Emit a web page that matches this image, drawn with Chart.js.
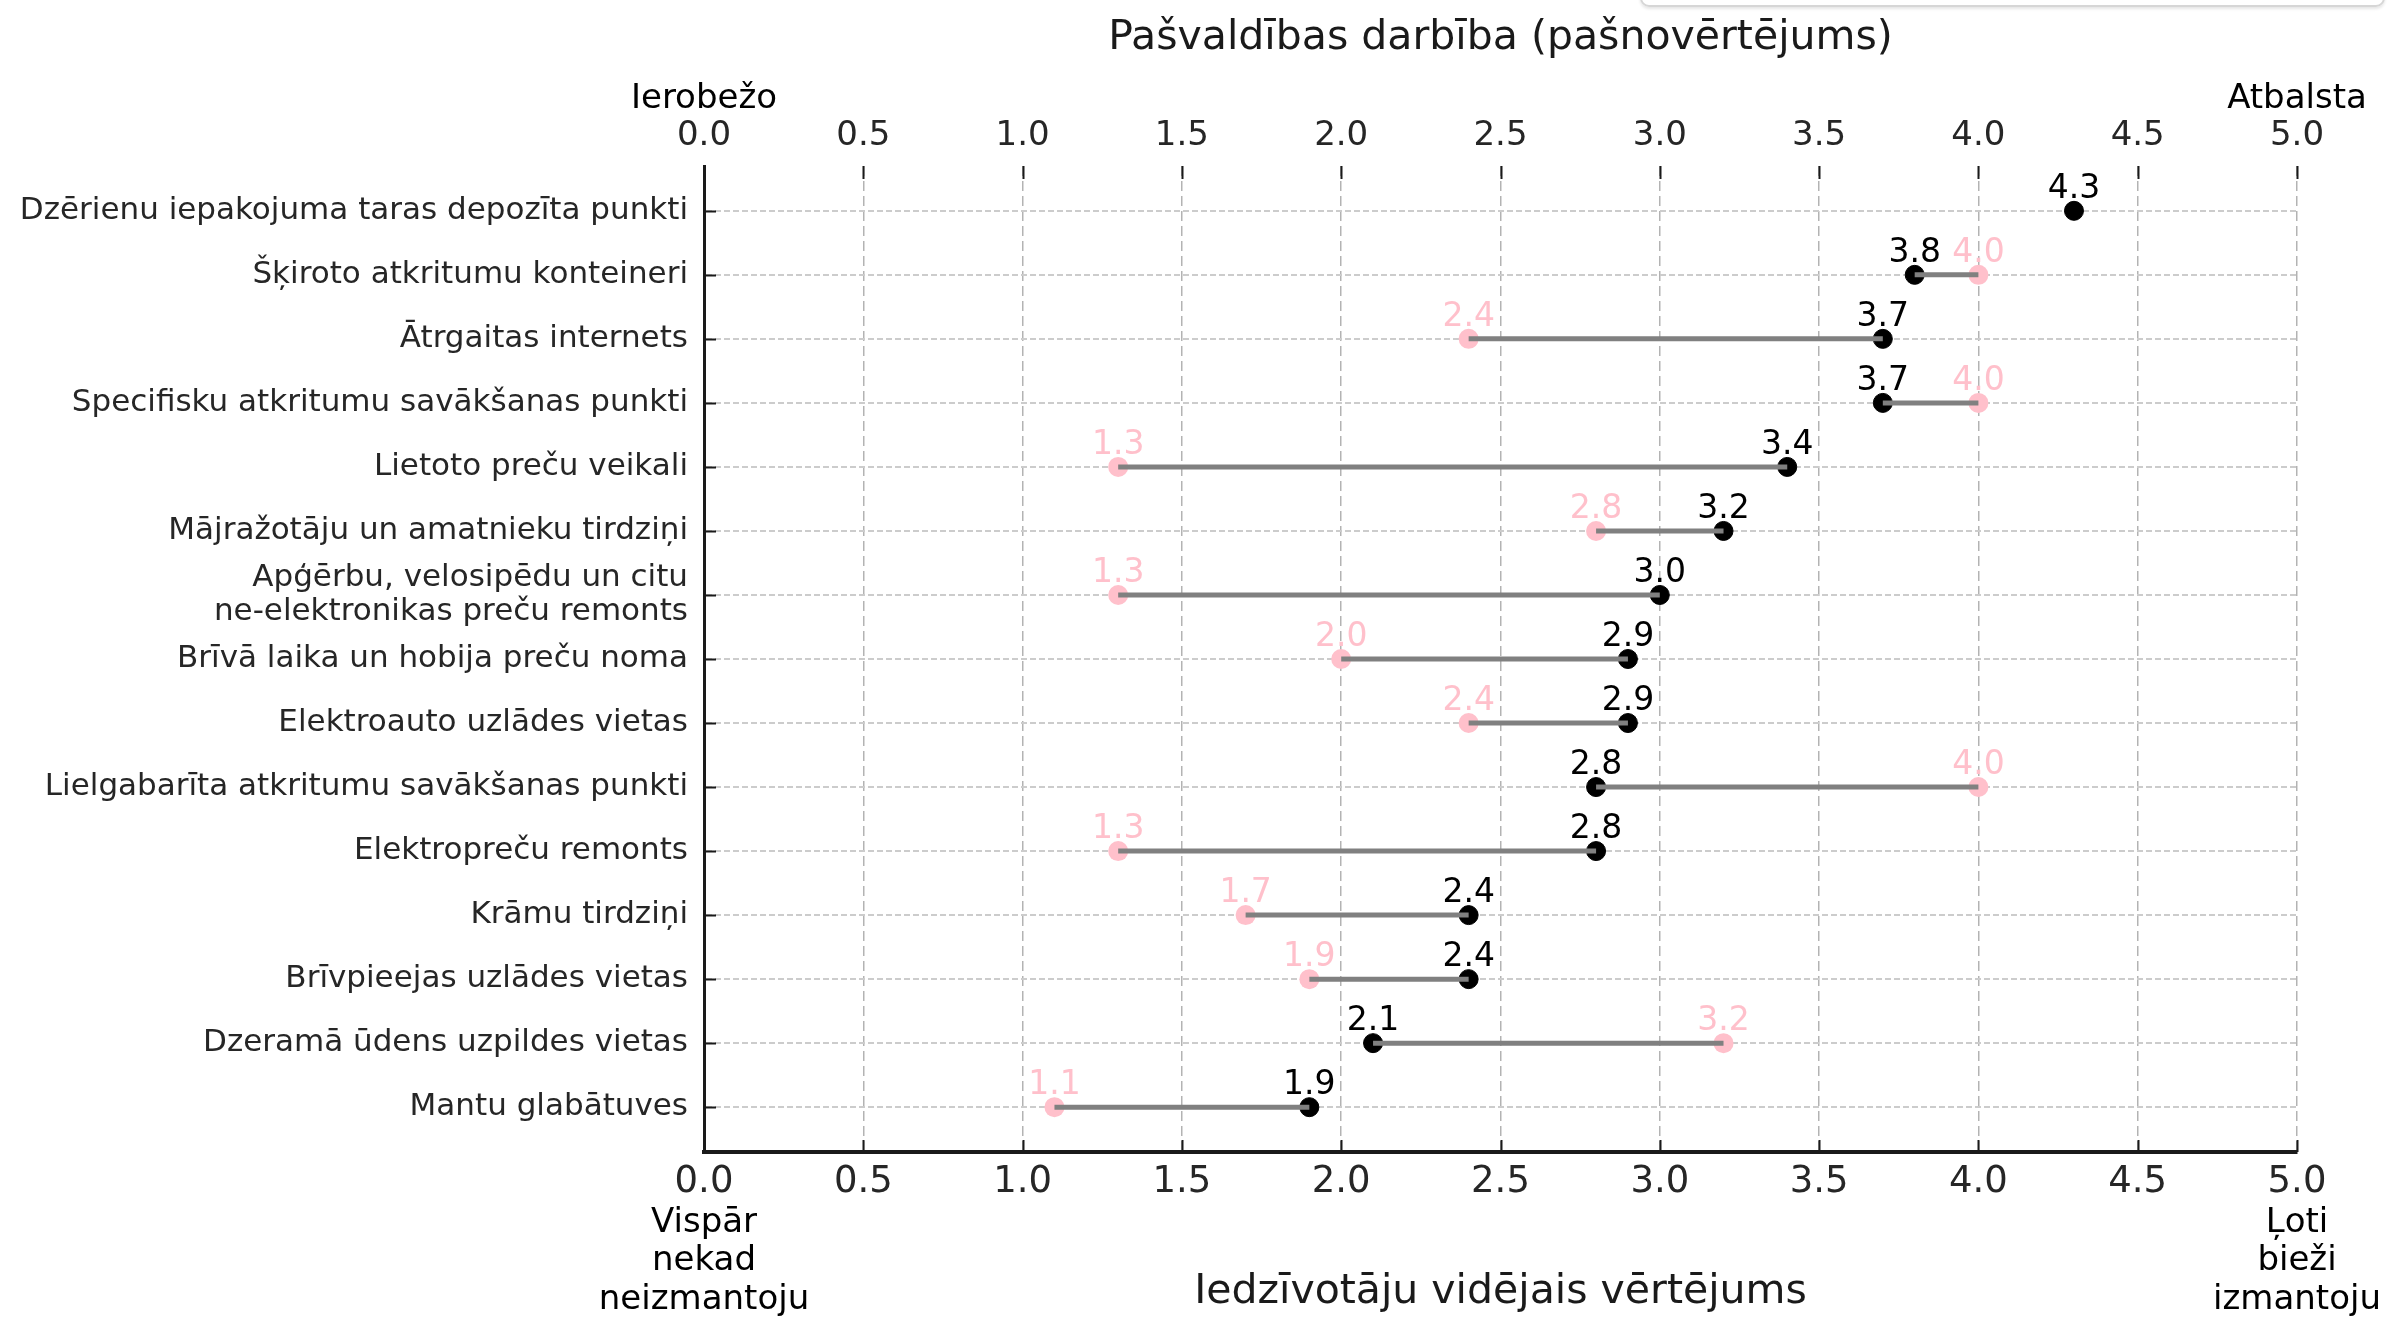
<!DOCTYPE html>
<html>
<head>
<meta charset="utf-8">
<title>Pašvaldības darbība</title>
<script src="https://cdn.jsdelivr.net/npm/chart.js@4.4.1/dist/chart.umd.min.js"></script>
<style>
  html, body { margin: 0; padding: 0; background: #fff; overflow: hidden; }
  #wrap { position: relative; width: 2390px; height: 1317px; }
  #chart { display: block; }
  .ghost-box {
    position: absolute; left: 1640px; top: -40px; width: 741px; height: 43px;
    border: 2px solid #d6d6d6; border-radius: 9px; box-shadow: 0 2px 3px rgba(0,0,0,0.10);
  }
</style>
</head>
<body>
<div id="wrap">
  <canvas id="chart" width="2390" height="1317"></canvas>
  <div class="ghost-box"></div>
</div>
<script>
const categories = [
  "Dzērienu iepakojuma taras depozīta punkti",
  "Šķiroto atkritumu konteineri",
  "Ātrgaitas internets",
  "Specifisku atkritumu savākšanas punkti",
  "Lietoto preču veikali",
  "Mājražotāju un amatnieku tirdziņi",
  ["Apģērbu, velosipēdu un citu", "ne-elektronikas preču remonts"],
  "Brīvā laika un hobija preču noma",
  "Elektroauto uzlādes vietas",
  "Lielgabarīta atkritumu savākšanas punkti",
  "Elektropreču remonts",
  "Krāmu tirdziņi",
  "Brīvpieejas uzlādes vietas",
  "Dzeramā ūdens uzpildes vietas",
  "Mantu glabātuves"
];

// residents' average rating (bottom axis, black)
const residents = [4.3, 3.8, 3.7, 3.7, 3.4, 3.2, 3.0, 2.9, 2.9, 2.8, 2.8, 2.4, 2.4, 2.1, 1.9];
// municipality self-assessment (top axis, pink)
const municipality = [null, 4.0, 2.4, 4.0, 1.3, 2.8, 1.3, 2.0, 2.4, 4.0, 1.3, 1.7, 1.9, 3.2, 1.1];

const tickValues = [0, 0.5, 1, 1.5, 2, 2.5, 3, 3.5, 4, 4.5, 5];

const FONT = "DejaVu Sans";
const DARK = "#262626";
const PINK = "#ffc0cb";

const points = (vals) => vals
  .map((v, i) => ({ x: v, y: i }))
  .filter((p) => p.x !== null);

// connector segments, broken by a null point after each pair
const connectors = [];
residents.forEach((r, i) => {
  if (municipality[i] === null) return;
  connectors.push({ x: r, y: i }, { x: municipality[i], y: i }, { x: null, y: i });
});

const setTicks = (scale) => {
  scale.ticks = tickValues.map((v) => ({ value: v }));
};

// inward tick marks (matplotlib style)
const innerTicks = {
  id: "innerTicks",
  beforeDatasetsDraw(chart) {
    const { ctx, chartArea, scales } = chart;
    ctx.save();
    ctx.strokeStyle = "#1a1a1a";
    ctx.lineWidth = 2;
    ctx.beginPath();
    tickValues.forEach((v) => {
      const xb = Math.round(scales.x.getPixelForValue(v)) + 0.5;
      ctx.moveTo(xb, chartArea.bottom);
      ctx.lineTo(xb, chartArea.bottom - 12);
      const xt = Math.round(scales.x2.getPixelForValue(v)) + 0.5;
      ctx.moveTo(xt, chartArea.top);
      ctx.lineTo(xt, chartArea.top + 13);
    });
    categories.forEach((c, i) => {
      const y = Math.round(scales.y.getPixelForValue(i)) + 0.5;
      ctx.moveTo(chartArea.left, y);
      ctx.lineTo(chartArea.left + 12, y);
    });
    ctx.stroke();
    ctx.restore();
  },
};

// numbers above each dot
const valueLabels = {
  id: "valueLabels",
  afterDatasetsDraw(chart) {
    const { ctx } = chart;
    ctx.save();
    ctx.font = `33px "${FONT}"`;
    ctx.textAlign = "center";
    ctx.textBaseline = "alphabetic";
    chart.data.datasets.forEach((ds, di) => {
      if (!ds.labelColor) return;
      const meta = chart.getDatasetMeta(di);
      ctx.fillStyle = ds.labelColor;
      meta.data.forEach((el, j) => {
        ctx.fillText(ds.data[j].x.toFixed(1), el.x, el.y - 13);
      });
    });
    ctx.restore();
  },
};

// end-of-scale captions
const scaleCaptions = {
  id: "scaleCaptions",
  afterDraw(chart) {
    const { ctx, scales } = chart;
    const x0 = scales.x.getPixelForValue(0);
    const x5 = scales.x.getPixelForValue(5);
    ctx.save();
    ctx.fillStyle = "#000";
    ctx.textAlign = "center";
    ctx.textBaseline = "alphabetic";
    ctx.font = `34px "${FONT}"`;
    ctx.fillText("Ierobežo", scales.x2.getPixelForValue(0), 108);
    ctx.fillText("Atbalsta", scales.x2.getPixelForValue(5), 108);
    const lows = ["Vispār", "nekad", "neizmantoju"];
    const highs = ["Ļoti", "bieži", "izmantoju"];
    const ys = [1232, 1270, 1309];
    lows.forEach((t, i) => ctx.fillText(t, x0, ys[i]));
    highs.forEach((t, i) => ctx.fillText(t, x5, ys[i]));
    ctx.restore();
  },
};

new Chart(document.getElementById("chart"), {
  data: {
    datasets: [
      {
        type: "line",
        data: connectors,
        xAxisID: "x",
        yAxisID: "y",
        borderColor: "#808080",
        borderWidth: 5,
        pointRadius: 0,
        spanGaps: false,
        order: 0,
      },
      {
        type: "scatter",
        data: points(residents),
        xAxisID: "x",
        yAxisID: "y",
        backgroundColor: "#000000",
        borderColor: "#000000",
        borderWidth: 1,
        pointRadius: 9.5,
        labelColor: "#000000",
        order: 1,
      },
      {
        type: "scatter",
        data: points(municipality),
        xAxisID: "x2",
        yAxisID: "y",
        backgroundColor: PINK,
        borderWidth: 0,
        pointRadius: 10,
        labelColor: PINK,
        order: 2,
      },
    ],
  },
  options: {
    responsive: false,
    animation: false,
    devicePixelRatio: 1,
    layout: { padding: { left: 0, right: 93, top: 0, bottom: 0 } },
    plugins: { legend: { display: false }, tooltip: { enabled: false } },
    scales: {
      x: {
        type: "linear",
        position: "bottom",
        min: 0,
        max: 5,
        afterBuildTicks: setTicks,
        afterFit: (s) => { s.height = 165; },
        ticks: {
          autoSkip: false,
          maxRotation: 0,
          padding: 8,
          color: DARK,
          font: { family: FONT, size: 37 },
          callback: (v) => Number(v).toFixed(1),
        },
        grid: { color: "#b3b3b3", lineWidth: 1.5, drawTicks: false },
        border: { display: true, color: "#1a1a1a", width: 4, dash: [10, 5] },
        title: {
          display: true,
          text: "Iedzīvotāju vidējais vērtējums",
          color: "#1a1a1a",
          font: { family: FONT, size: 41 },
          padding: { top: 0, bottom: 0 },
        },
      },
      x2: {
        type: "linear",
        position: "top",
        min: 0,
        max: 5,
        afterBuildTicks: setTicks,
        afterFit: (s) => { s.height = 166; },
        ticks: {
          autoSkip: false,
          maxRotation: 0,
          padding: 9,
          color: DARK,
          font: { family: FONT, size: 34 },
          callback: (v) => Number(v).toFixed(1),
        },
        grid: { display: false, drawTicks: false },
        border: { display: false },
        title: {
          display: true,
          text: "Pašvaldības darbība (pašnovērtējums)",
          color: "#1a1a1a",
          font: { family: FONT, size: 41 },
          padding: { top: 14, bottom: 0 },
        },
      },
      y: {
        type: "linear",
        position: "left",
        min: -0.7,
        max: categories.length - 0.3,
        reverse: true,
        afterBuildTicks: (s) => { s.ticks = categories.map((c, i) => ({ value: i })); },
        afterFit: (s) => { s.width = 704; },
        ticks: {
          autoSkip: false,
          padding: 16,
          color: DARK,
          font: { family: FONT, size: 31, lineHeight: 1.12 },
          callback: (v) => categories[v],
        },
        grid: { color: "#cccccc", lineWidth: 2, drawTicks: false },
        border: { display: true, color: "#1a1a1a", width: 3, dash: [6, 3] },
      },
    },
  },
  plugins: [innerTicks, valueLabels, scaleCaptions],
});
</script>
</body>
</html>
